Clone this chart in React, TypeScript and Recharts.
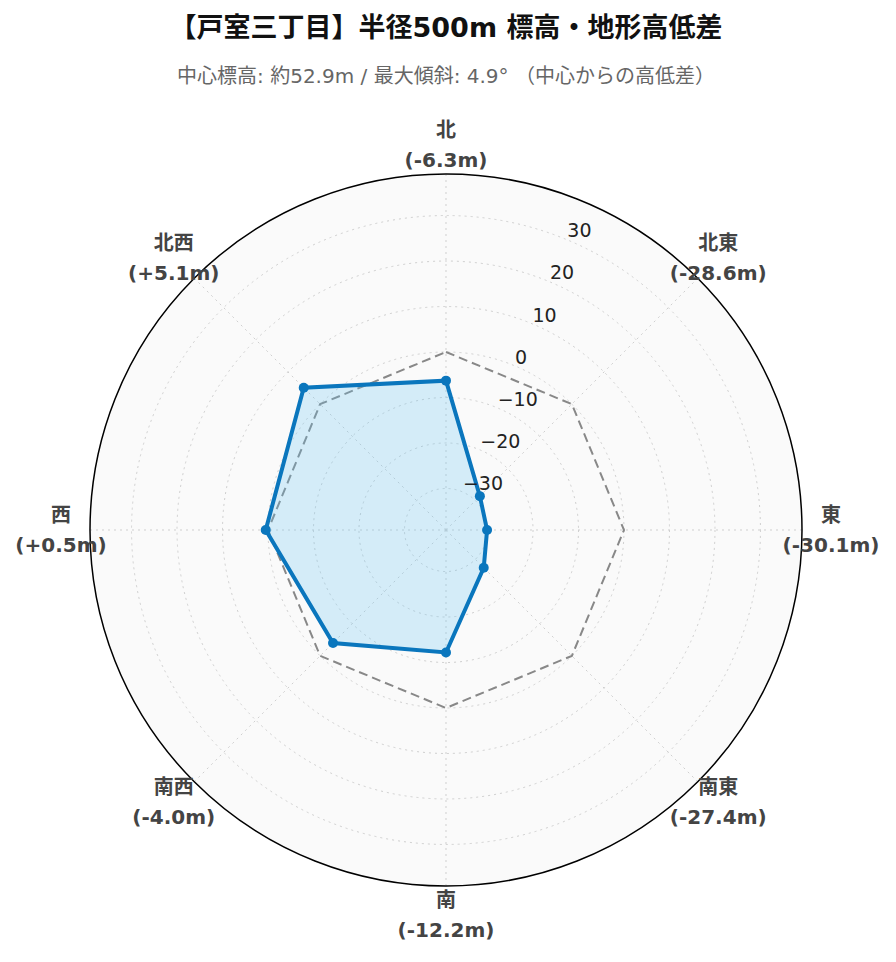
import React from 'react';
import { RadarChart, Radar, PolarGrid, PolarAngleAxis, PolarRadiusAxis } from 'recharts';

const directions = ['北', '北東', '東', '南東', '南', '南西', '西', '北西'];
const diffs = [-6.3, -28.6, -30.1, -27.4, -12.2, -4.0, 0.5, 5.1];
const baseline = [0, 0, 0, 0, 0, 0, 0, 0];
const radiusTicks = [-30, -20, -10, 0, 10, 20, 30];
const radiusDomain = [-39.13, 39.13];

const TITLE = '【戸室三丁目】半径500m 標高・地形高低差';
const SUBTITLE = '中心標高: 約52.9m / 最大傾斜: 4.9° （中心からの高低差）';

const W = 896;
const H = 962;
const CX = 446;
const CY = 530;
const R = 356;
const FONT = "'DejaVu Sans', 'Noto Sans CJK JP', sans-serif";

const data = directions.map((d, i) => ({ dir: d, diff: diffs[i], base: baseline[i] }));

function fmtDiff(v: number) {
  return `(${v > 0 ? '+' : ''}${v.toFixed(1)}m)`;
}

const AngleTick = (props: any) => {
  const { payload, index } = props;
  const ang = (payload.coordinate * Math.PI) / 180;
  const x = CX + 385 * Math.cos(-ang);
  const y = CY + 385 * Math.sin(-ang);
  return (
    <g>
      <text x={x} y={y - 15} textAnchor="middle" dominantBaseline="central"
        fontSize={20} fontWeight="bold" fill="#444" fontFamily={FONT}>{payload.value}</text>
      <text x={x} y={y + 15} textAnchor="middle" dominantBaseline="central"
        fontSize={20} fontWeight="bold" fill="#444" fontFamily={FONT}>{fmtDiff(diffs[index])}</text>
    </g>
  );
};

const RadiusTick = (props: any) => {
  const { x, y, payload } = props;
  const v = payload.value;
  const label = v < 0 ? '\u2212' + Math.abs(v) : String(v);
  return (
    <text x={x + 1} y={y - 9} textAnchor="start" dominantBaseline="central"
      fontSize={19} fill="#222" fontFamily={FONT}>{label}</text>
  );
};

export default function App() {
  return (
    <div style={{ position: 'absolute', left: 0, top: 0, width: W, height: H, background: '#fff', fontFamily: FONT }}>
      <div style={{ position: 'absolute', left: 0, top: 10, width: W - 4, textAlign: 'center', fontSize: 27, fontWeight: 'bold', color: '#111', lineHeight: '36px' }}>
        {TITLE}
      </div>
      <div style={{ position: 'absolute', left: 0, top: 62, width: W - 4, textAlign: 'center', fontSize: 20, color: '#666', lineHeight: '28px' }}>
        {SUBTITLE}
      </div>
      <svg width={W} height={H} style={{ position: 'absolute', left: 0, top: 0 }}>
        <circle cx={CX} cy={CY} r={R} fill="#fafafa" />
      </svg>
      <div style={{ position: 'absolute', left: 0, top: 0 }}>
        <RadarChart width={W} height={H} data={data} cx={CX} cy={CY} outerRadius={R}
          startAngle={90} endAngle={-270}>
          <PolarGrid gridType="circle" stroke="#cfcfcf" strokeDasharray="2 4" strokeWidth={1} />
          <PolarAngleAxis dataKey="dir" tick={<AngleTick />} tickLine={false}
            axisLineType="circle" axisLine={{ stroke: '#000', strokeWidth: 1.5 }} />
          <PolarRadiusAxis angle={67.5} domain={radiusDomain} ticks={radiusTicks} type="number"
            tick={<RadiusTick />} axisLine={false} tickLine={false} allowDataOverflow />
          <Radar dataKey="base" stroke="#888" strokeWidth={2} strokeDasharray="9 5" fill="none"
            fillOpacity={0} dot={false} isAnimationActive={false} />
          <Radar dataKey="diff" stroke="#0a76bd" strokeWidth={4} fill="#62c2f2" fillOpacity={0.25}
            dot={{ r: 5, fill: '#0a76bd', fillOpacity: 1, strokeWidth: 0 }} isAnimationActive={false} />
        </RadarChart>
      </div>
    </div>
  );
}
